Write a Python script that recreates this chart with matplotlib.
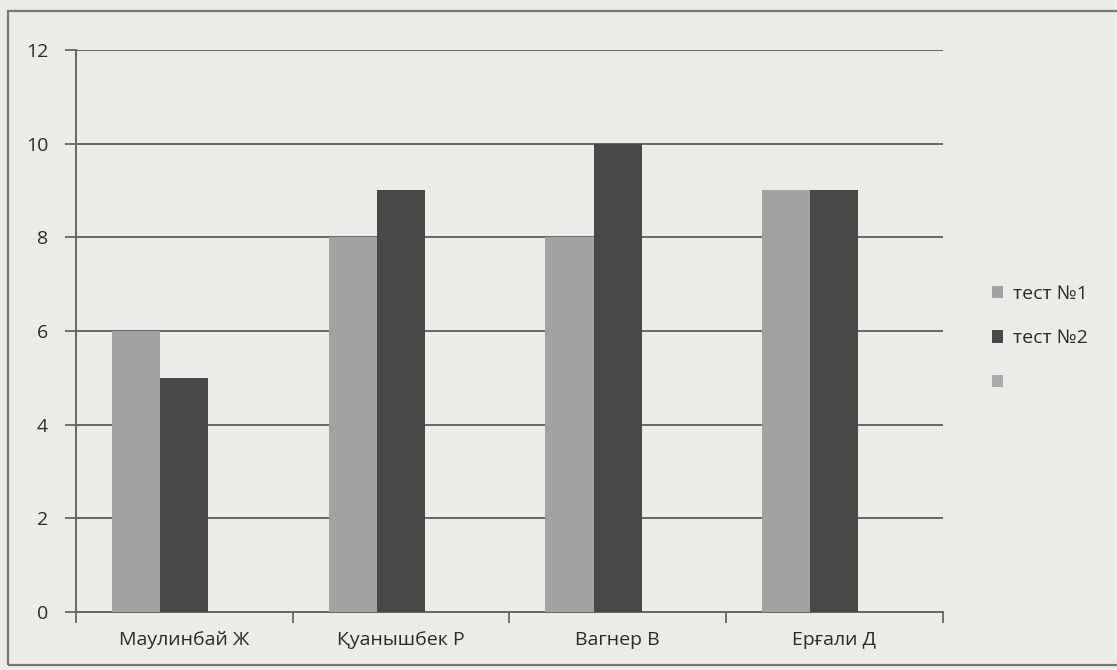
import numpy as np
import matplotlib
matplotlib.use("Agg")
import matplotlib.pyplot as plt
from matplotlib.patches import Rectangle, Patch

plt.rcParams['font.family'] = ['Open Sans', 'DejaVu Sans']

categories = ["Маулинбай Ж", "Қуанышбек Р", "Вагнер В", "Ерғали Д"]
test1 = [6, 8, 8, 9]
test2 = [5, 9, 10, 9]
series3 = [np.nan, np.nan, np.nan, np.nan]
series_labels = ["тест №1", "тест №2", ""]
y_ticks = [0, 2, 4, 6, 8, 10, 12]

bg = '#ebebe9'
c1 = '#a2a2a2'
c2 = '#484848'
c3 = '#ababab'
grid_c = '#666666'
txt_c = '#2b2b2b'
fs = 14

fig = plt.figure(figsize=(11.17, 6.70), dpi=100)
fig.patch.set_facecolor(bg)

# outer chart-area frame
fig.add_artist(Rectangle((0.0072, 0.0075), 1.05, 0.9761, transform=fig.transFigure,
                         fill=False, edgecolor='#777777', linewidth=1.6))

ax = fig.add_axes([0.068, 0.0866, 0.776, 0.8388])
ax.set_facecolor(bg)

x = np.arange(len(categories))
w = 1 / 4.5
ax.bar(x - w, test1, w, color=c1, linewidth=0, zorder=3)
ax.bar(x, test2, w, color=c2, linewidth=0, zorder=3)
ax.bar(x + w, series3, w, color=c3, linewidth=0, zorder=3)

ax.set_ylim(0, 12)
ax.set_xlim(-0.5, len(categories) - 0.5)
ax.set_yticks(y_ticks)
ax.set_yticklabels([str(v) for v in y_ticks], fontsize=fs, color=txt_c)
ax.yaxis.grid(True, color=grid_c, linewidth=1.4, zorder=1)
ax.set_axisbelow(True)

ax.set_xticks(x)
ax.set_xticklabels(categories, fontsize=fs, color=txt_c)
ax.set_xticks(np.arange(-0.5, len(categories), 1.0), minor=True)
ax.tick_params(axis='x', which='major', length=0, pad=14)
ax.tick_params(axis='x', which='minor', length=8, width=1.3, color=grid_c, direction='out')
ax.tick_params(axis='y', length=8, width=1.3, color=grid_c, pad=12)

for s in ['top', 'right']:
    ax.spines[s].set_visible(False)
for s in ['left', 'bottom']:
    ax.spines[s].set_color(grid_c)
    ax.spines[s].set_linewidth(1.4)

handles = [Patch(facecolor=c1), Patch(facecolor=c2), Patch(facecolor=c3)]
leg = fig.legend(handles, series_labels, loc='center left', bbox_to_anchor=(0.872, 0.495),
                 frameon=False, fontsize=fs, handlelength=0.6, handleheight=0.6,
                 handletextpad=0.5, labelspacing=1.35, labelcolor=txt_c)

fig.savefig("out.png", dpi=100, facecolor=bg)
